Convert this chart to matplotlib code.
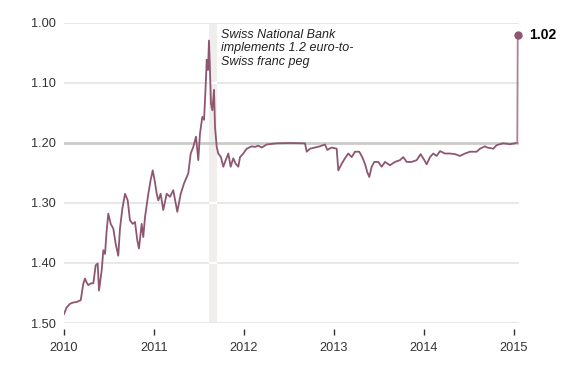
import matplotlib
matplotlib.use("Agg")
import matplotlib.pyplot as plt

plt.rcParams['font.family'] = ['Liberation Sans', 'DejaVu Sans']

# euro-to-franc rate (francs per euro), dates as decimal years
years = [2010.000, 2010.030, 2010.067, 2010.100, 2010.141, 2010.186, 2010.214, 2010.233,
         2010.250, 2010.270, 2010.300, 2010.326, 2010.352, 2010.374, 2010.389, 2010.419,
         2010.437, 2010.456, 2010.472, 2010.492, 2010.519, 2010.548, 2010.574, 2010.603,
         2010.622, 2010.648, 2010.678, 2010.708, 2010.733, 2010.763, 2010.789, 2010.814,
         2010.833, 2010.863, 2010.881, 2010.900, 2010.919, 2010.937, 2010.963, 2010.986,
         2011.011, 2011.030, 2011.048, 2011.074, 2011.103, 2011.141, 2011.178, 2011.214,
         2011.259, 2011.297, 2011.333, 2011.381, 2011.408, 2011.437, 2011.467, 2011.492,
         2011.511, 2011.537, 2011.556, 2011.574, 2011.586, 2011.600, 2011.611, 2011.622,
         2011.633, 2011.648, 2011.667, 2011.678, 2011.697, 2011.714, 2011.744, 2011.770,
         2011.797, 2011.826, 2011.852, 2011.881, 2011.908, 2011.937, 2011.956, 2011.992,
         2012.030, 2012.086, 2012.122, 2012.159, 2012.197, 2012.252, 2012.363, 2012.511,
         2012.678, 2012.697, 2012.733, 2012.789, 2012.844, 2012.900, 2012.926, 2012.974,
         2013.030, 2013.048, 2013.086, 2013.122, 2013.159, 2013.197, 2013.233, 2013.281,
         2013.314, 2013.344, 2013.370, 2013.392, 2013.419, 2013.448, 2013.492, 2013.530,
         2013.567, 2013.622, 2013.678, 2013.733, 2013.770, 2013.808, 2013.863, 2013.919,
         2013.963, 2014.000, 2014.030, 2014.067, 2014.103, 2014.141, 2014.178, 2014.233,
         2014.289, 2014.344, 2014.400, 2014.456, 2014.511, 2014.586, 2014.622, 2014.678,
         2014.703, 2014.770, 2014.808, 2014.881, 2014.956, 2015.011, 2015.037]
rates = [1.485, 1.474, 1.468, 1.466, 1.465, 1.462, 1.435, 1.426,
         1.432, 1.437, 1.434, 1.434, 1.404, 1.401, 1.446, 1.412,
         1.379, 1.385, 1.350, 1.318, 1.335, 1.343, 1.368, 1.388,
         1.343, 1.310, 1.285, 1.296, 1.329, 1.335, 1.332, 1.362,
         1.376, 1.335, 1.357, 1.324, 1.304, 1.285, 1.262, 1.246,
         1.266, 1.285, 1.296, 1.285, 1.312, 1.285, 1.290, 1.279,
         1.315, 1.285, 1.268, 1.251, 1.218, 1.207, 1.190, 1.229,
         1.185, 1.157, 1.162, 1.107, 1.062, 1.079, 1.030, 1.079,
         1.135, 1.146, 1.112, 1.174, 1.207, 1.218, 1.224, 1.240,
         1.229, 1.218, 1.240, 1.226, 1.235, 1.240, 1.224, 1.218,
         1.210, 1.206, 1.207, 1.205, 1.208, 1.203, 1.201, 1.2005,
         1.201, 1.215, 1.210, 1.208, 1.206, 1.203, 1.212, 1.208,
         1.210, 1.246, 1.235, 1.226, 1.218, 1.224, 1.215, 1.215,
         1.224, 1.235, 1.249, 1.257, 1.240, 1.232, 1.232, 1.240,
         1.232, 1.2375, 1.232, 1.229, 1.224, 1.232, 1.232, 1.229,
         1.219, 1.228, 1.236, 1.224, 1.218, 1.222, 1.214, 1.218,
         1.218, 1.219, 1.222, 1.218, 1.215, 1.215, 1.210, 1.206,
         1.208, 1.210, 1.204, 1.201, 1.2025, 1.201, 1.200]

last_year = 2015.042
last_rate = 1.02
peg_rate = 1.20
peg_start, peg_end = 2011.61, 2011.70

ytick_vals = [1.00, 1.10, 1.20, 1.30, 1.40, 1.50]
ytick_labels = ["1.00", "1.10", "1.20", "1.30", "1.40", "1.50"]
xtick_vals = [2010, 2011, 2012, 2013, 2014, 2015]
xtick_labels = ["2010", "2011", "2012", "2013", "2014", "2015"]

note = "Swiss National Bank\nimplements 1.2 euro-to-\nSwiss franc peg"

line_col = "#8f5671"
light_col = "#b27f97"

fig = plt.figure(figsize=(5.83, 3.75), dpi=100)
ax = fig.add_axes([64/583, 1 - 323/375, 455/583, 300.5/375])

ax.set_xlim(2010, 2015.056)
ax.set_ylim(1.50, 1.00)

# grid
for v in ytick_vals:
    if v == peg_rate:
        continue
    ax.axhline(v, color="#e8e8e8", lw=1.5, zorder=1)
ax.axhline(peg_rate, color="#cbcbc8", lw=2.0, zorder=1)

# shaded band for the peg announcement
ax.axvspan(peg_start, peg_end, color="#efeeec", lw=0, zorder=0)
ax.hlines([v for v in ytick_vals if v not in (1.00, 1.50, peg_rate)],
          peg_start, peg_end, color="white", lw=1.6, zorder=1.5)

ax.plot(years, rates, color=line_col, lw=1.3, zorder=3, solid_joinstyle="round")
ax.plot([years[-1], last_year], [rates[-1], last_rate], color=light_col, lw=1.3, zorder=3)
ax.plot([last_year], [last_rate], "o", color=line_col, ms=5, zorder=4, clip_on=False)
ax.annotate("1.02", (last_year, last_rate), xytext=(8, 0), textcoords="offset points",
            va="center", ha="left", fontsize=10, fontweight="bold", color="black")

ax.text(2011.744, 1.010, note, style="italic", fontsize=9, color="#222222",
        va="top", ha="left", linespacing=1.2)

for s in ax.spines.values():
    s.set_visible(False)
ax.spines["bottom"].set_position(("outward", 4))

ax.set_yticks(ytick_vals)
ax.set_yticklabels(ytick_labels)
ax.set_xticks(xtick_vals)
ax.set_xticklabels(xtick_labels)
ax.tick_params(axis="y", length=0, pad=6, labelsize=9.2, labelcolor="#333333")
ax.tick_params(axis="x", length=4.5, width=1, color="#333333", pad=5,
               labelsize=9.2, labelcolor="#333333")

fig.savefig("out.png", dpi=100)
